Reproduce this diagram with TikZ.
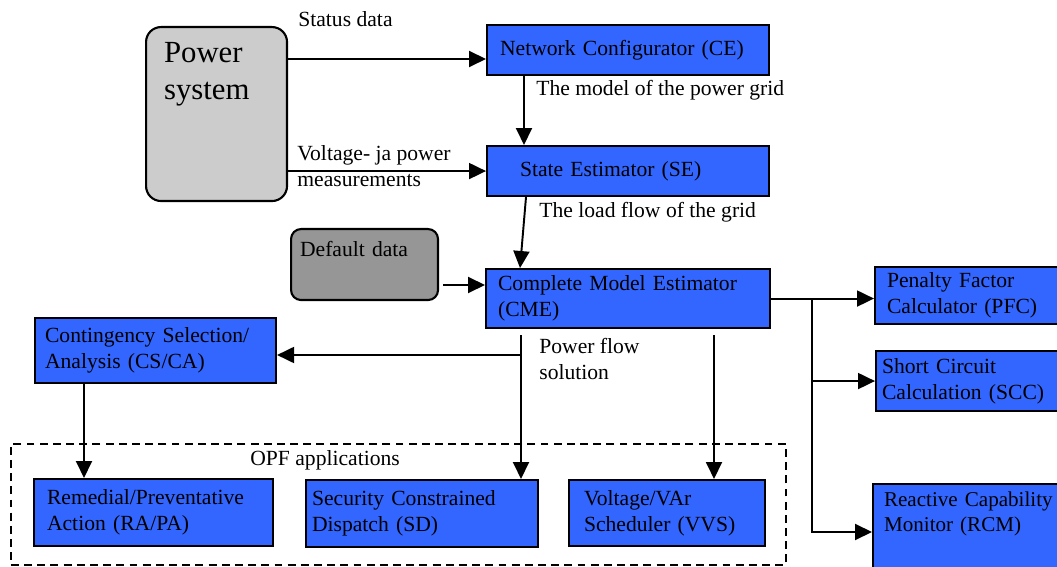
\documentclass[tikz,border=0pt]{standalone}
\usepackage{fontspec}
\setmainfont{Liberation Serif}
\usetikzlibrary{arrows.meta}
\definecolor{blkblue}{HTML}{3366FF}
\definecolor{sysgray}{HTML}{CCCCCC}
\definecolor{dflgray}{HTML}{969696}
\tikzset{
 blk/.style={draw,line width=1.2pt,fill=blkblue,anchor=north west,align=left,inner ysep=0pt},
 src/.style={draw,line width=1.2pt,rounded corners=0.3cm,anchor=north west,align=left,inner ysep=0pt},
 lbl/.style={anchor=west,inner sep=0pt},
 arr/.style={line width=1.1pt,-{Triangle[length=0.34cm,width=0.32cm]}},
}
\begin{document}
\begin{tikzpicture}[x=0.02cm,y=-0.02cm, every node/.style={font=\fontsize{12.3}{15}\selectfont}]
\useasboundingbox (0,0) rectangle (1057,567);
 % OPF group
 \node[draw,line width=1.1pt,dash pattern=on 4.5pt off 3pt,minimum width=15.5cm,
  minimum height=2.42cm,anchor=north west] (opf) at (10,443) {};
 \node[lbl] (opft) at (250,460) {OPF applications};
 % sources
 \node[src,fill=sysgray,text width=2.1cm,inner xsep=0.36cm,text height=0.7cm,
  text depth=2.78cm,font=\fontsize{17.5}{21.5}\selectfont] (power) at (145,26) {Power\\system};
 \node[src,fill=dflgray,rounded corners=0.2cm,text width=2.58cm,inner xsep=0.18cm,
  text height=0.54cm,text depth=0.88cm] (dflt) at (290,228) {Default data};
 % main chain
 \node[blk,text width=5.12cm,inner xsep=0.26cm,minimum height=1cm]
  (ce) at (486,24) {Network Configurator (CE)};
 \node[blk,text width=4.32cm,inner xsep=0.66cm,minimum height=1cm]
  (se) at (486,145) {State Estimator (SE)};
 \node[blk,text width=5.2cm,inner xsep=0.24cm,minimum height=1.18cm]
  (cme) at (485,268) {Complete Model Estimator\\(CME)};
 \node[blk,text width=4.42cm,inner xsep=0.2cm,minimum height=1.3cm]
  (csca) at (34,317) {Contingency Selection/\\Analysis (CS/CA)};
 % right column
 \node[blk,text width=3.24cm,inner xsep=0.24cm,minimum height=1.14cm]
  (pfc) at (874,266) {Penalty Factor\\Calculator (PFC)};
 \node[blk,text width=3.46cm,inner xsep=0.12cm,minimum height=1.2cm]
  (scc) at (875,350) {Short Circuit\\Calculation (SCC)};
 \node[blk,text width=4cm,inner xsep=0.22cm,text height=0.44cm,text depth=1.3cm,
  font=\fontsize{12}{14.7}\selectfont] (rcm) at (872,483) {Reactive Capability\\Monitor (RCM)};
 % OPF applications
 \node[blk,text width=4.26cm,inner xsep=0.26cm,minimum height=1.34cm]
  (rapa) at (33,478) {Remedial/Preventative\\Action (RA/PA)};
 \node[blk,text width=4.4cm,inner xsep=0.12cm,minimum height=1.34cm]
  (sd) at (305,479) {Security Constrained\\Dispatch (SD)};
 \node[blk,text width=3.32cm,inner xsep=0.3cm,minimum height=1.32cm]
  (vvs) at (568,479) {Voltage/VAr\\Scheduler (VVS)};
 % labels
 \node[lbl] (stat) at (298,19) {Status data};
 \node[lbl] (mdl) at (536,90) {The model of the power grid};
 \node[lbl,align=left] (meas) at (297,166) {Voltage- ja power\\measurements};
 \node[lbl] (lf) at (539,212) {The load flow of the grid};
 \node[lbl,align=left] (pfs) at (539,359) {Power flow\\solution};
 % connectors
 \draw[arr] (power.east |- 0,59) -- (ce.west |- 0,59);
 \draw[arr] (power.east |- se.west) -- (se.west);
 \draw[arr] (ce.south -| 524,0) -- (se.north -| 524,0);
 \draw[arr] (se.south -| 526,0) -- (cme.north -| 520,0);
 \draw[arr,shorten <=0.08cm] (dflt.east |- 0,285) -- (cme.west |- 0,285);
 \draw[arr] (cme.east) -- (pfc.west |- cme.east);
 \draw[arr] (cme.east -| 812,0) |- (rcm.west |- 0,532);
 \draw[arr] (812,0 |- scc.west) -- (scc.west);
 \draw[arr,shorten <=0.12cm] (cme.south -| 521,0) -- (sd.north -| 521,0);
 \draw[arr] (521,355) -- (csca.east |- 0,355);
 \draw[arr,shorten <=0.12cm] (cme.south -| 714,0) -- (vvs.north -| 714,0);
 \draw[arr] (csca.south -| 84,0) -- (rapa.north -| 84,0);
\end{tikzpicture}
\end{document}
